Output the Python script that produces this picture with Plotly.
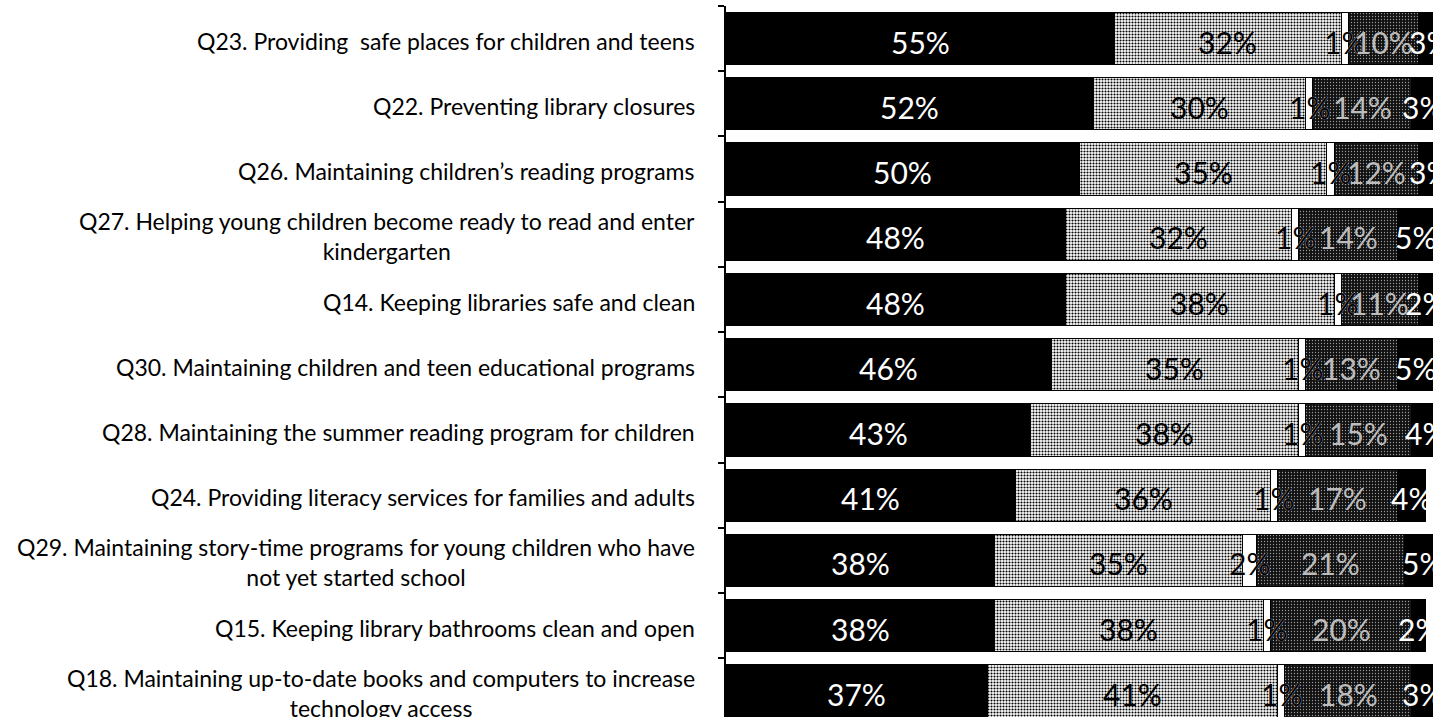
import plotly.graph_objects as go

# ---- data ----
cat_ids = ["Q23", "Q22", "Q26", "Q27", "Q14", "Q30", "Q28", "Q24", "Q29", "Q15", "Q18"]
cat_labels = [
    "Q23. Providing\u00a0 safe places for children and teens",
    "Q22. Preventing library closures",
    "Q26. Maintaining children\u2019s reading programs",
    "Q27. Helping young children become ready to read and enter<br>kindergarten",
    "Q14. Keeping libraries safe and clean",
    "Q30. Maintaining children and teen educational programs",
    "Q28. Maintaining the summer reading program for children",
    "Q24. Providing literacy services for families and adults",
    "Q29. Maintaining story-time programs for young children who have<br>not yet started school",
    "Q15. Keeping library bathrooms clean and open",
    "Q18. Maintaining up-to-date books and computers to increase<br>technology access",
]
series_names = ["Extremely important", "Very important", "Don't know",
                "Somewhat important", "Not important"]
s1 = [55, 52, 50, 48, 48, 46, 43, 41, 38, 38, 37]
s2 = [32, 30, 35, 32, 38, 35, 38, 36, 35, 38, 41]
s3 = [1, 1, 1, 1, 1, 1, 1, 1, 2, 1, 1]
s4 = [10, 14, 12, 14, 11, 13, 15, 17, 21, 20, 18]
s5 = [3, 3, 3, 5, 2, 5, 4, 4, 5, 2, 3]
series_values = [s1, s2, s3, s4, s5]

# ---- styles ----
FONT = "Lato"
styles = [
    dict(marker=dict(color="black", line=dict(color="black", width=1)),
         textcolor="white", shadow="none"),
    dict(marker=dict(color="white",
                     pattern=dict(shape=".", fgcolor="black", bgcolor="white",
                                  size=3, solidity=0.4, fillmode="replace"),
                     line=dict(color="black", width=1)),
         textcolor="black", shadow="none"),
    dict(marker=dict(color="white", line=dict(color="black", width=1)),
         textcolor="black", shadow="0px 0px 1px #ffffff"),
    dict(marker=dict(color="#111111",
                     pattern=dict(shape=".", fgcolor="#9a9a9a", bgcolor="#111111",
                                  size=3, solidity=0.15, fillmode="replace"),
                     line=dict(color="black", width=1)),
         textcolor="#bcbcbc", shadow="none"),
    dict(marker=dict(color="black", line=dict(color="black", width=1)),
         textcolor="white", shadow="none"),
]

fig = go.Figure()
starts = [0] * len(cat_ids)
for name, vals, st in zip(series_names, series_values, styles):
    fig.add_trace(go.Bar(
        y=cat_ids, x=vals, name=name, orientation="h",
        marker=st["marker"], showlegend=False, hoverinfo="skip",
    ))
    # value labels, centred on each segment (drawn above all bars)
    for cid, s, v in zip(cat_ids, starts, vals):
        fig.add_annotation(
            xref="x", x=s + v / 2, yref="y", y=cid, yshift=-3,
            text=f"{v}%", showarrow=False, xanchor="center",
            font=dict(family=FONT, size=30, color=st["textcolor"],
                      shadow=st["shadow"]),
        )
    starts = [s + v for s, v in zip(starts, vals)]

for cid, lab in zip(cat_ids, cat_labels):
    fig.add_annotation(
        xref="paper", x=0, xanchor="right", xshift=-29,
        yref="y", y=cid, yshift=-2, showarrow=False,
        text=lab, align="center",
        font=dict(family=FONT, size=23, color="black"),
    )

fig.update_layout(
    barmode="stack", bargap=0.2,
    width=1433, height=717,
    margin=dict(l=726, r=0, t=6, b=0, pad=0),
    paper_bgcolor="white", plot_bgcolor="white",
    xaxis=dict(range=[0, 100], visible=False, showgrid=False, zeroline=False),
    yaxis=dict(type="category", range=[10.4, -0.5], showticklabels=False,
               ticks="outside", tickson="boundaries", ticklen=6,
               tickcolor="black", tickwidth=1.5,
               showline=True, linecolor="black", linewidth=1.5,
               showgrid=False, zeroline=False),
)

fig.write_html("out.html",
               config={"displayModeBar": False},
               post_script="document.body.style.margin='0';"
                           "document.body.style.overflow='hidden';")
